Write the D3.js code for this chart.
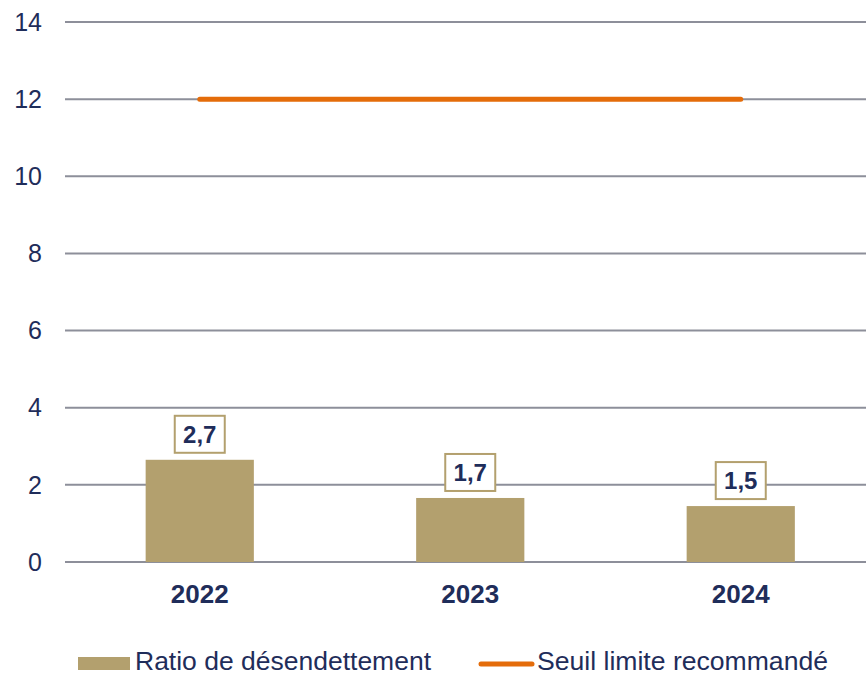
<!DOCTYPE html>
<html>
<head>
<meta charset="utf-8">
<script src="https://cdn.jsdelivr.net/npm/d3@7"></script>
<style>
  body { margin: 0; background: #fff; }
  text { font-family: "Liberation Sans", Arial, sans-serif; }
</style>
</head>
<body>
<div class="chart"></div>
<script>
// data
let years = ["2022", "2023", "2024"];
let ratio = [2.65, 1.66, 1.45];
let ratioLabels = ["2,7", "1,7", "1,5"];
let seuil = [12, 12, 12];
let yTicks = [0, 2, 4, 6, 8, 10, 12, 14];
let legendLabels = ["Ratio de désendettement", "Seuil limite recommandé"];

let width = 866, height = 675;
let navy = "#1f2d5a", gold = "#b3a06e", orange = "#e46c0a", grid = "#8d8f9a";

let svg = d3.select(".chart")
	.append("svg")
	.attr("width", width)
	.attr("height", height);

let x = d3.scaleBand()
	.domain(years)
	.range([64.5, 876])
	.paddingInner(0.6)
	.paddingOuter(0.3);

let y = d3.scaleLinear()
	.domain([0, 14])
	.range([562, 22]);

// gridlines
svg.selectAll(".grid")
	.data(yTicks)
	.enter().append("line")
	.attr("x1", 65)
	.attr("x2", width)
	.attr("y1", d => y(d))
	.attr("y2", d => y(d))
	.attr("stroke", grid)
	.attr("stroke-width", 2);

// y labels
svg.selectAll(".ytick")
	.data(yTicks)
	.enter().append("text")
	.attr("x", 42)
	.attr("y", d => y(d))
	.attr("dy", "0.35em")
	.attr("text-anchor", "end")
	.attr("font-size", 25)
	.attr("fill", navy)
	.text(d => d);

// bars
svg.selectAll(".bar")
	.data(ratio)
	.enter().append("rect")
	.attr("x", (d, i) => x(years[i]))
	.attr("width", x.bandwidth())
	.attr("y", d => y(d))
	.attr("height", d => y(0) - y(d))
	.attr("fill", gold);

// threshold line
let line = d3.line()
	.x((d, i) => x(years[i]) + x.bandwidth() / 2)
	.y(d => y(d));

svg.append("path")
	.datum(seuil)
	.attr("d", line)
	.attr("fill", "none")
	.attr("stroke", orange)
	.attr("stroke-width", 5)
	.attr("stroke-linecap", "round");

// value boxes
let boxes = svg.selectAll(".lbl")
	.data(ratio)
	.enter().append("g")
	.attr("transform", (d, i) => "translate(" + (x(years[i]) + x.bandwidth() / 2) + "," + (y(d) - 7) + ")");

boxes.append("rect")
	.attr("x", -25)
	.attr("y", -37)
	.attr("width", 50)
	.attr("height", 37)
	.attr("fill", "#fff")
	.attr("stroke", gold)
	.attr("stroke-width", 2);

boxes.append("text")
	.attr("y", -18.5)
	.attr("dy", "0.35em")
	.attr("text-anchor", "middle")
	.attr("font-size", 24)
	.attr("font-weight", "bold")
	.attr("fill", navy)
	.text((d, i) => ratioLabels[i]);

// category labels
svg.selectAll(".xlab")
	.data(years)
	.enter().append("text")
	.attr("x", d => x(d) + x.bandwidth() / 2)
	.attr("y", 603)
	.attr("text-anchor", "middle")
	.attr("font-size", 26)
	.attr("font-weight", "bold")
	.attr("fill", navy)
	.text(d => d);

// legend
svg.append("rect")
	.attr("x", 78).attr("y", 657)
	.attr("width", 52).attr("height", 13)
	.attr("fill", gold);
svg.append("text")
	.attr("x", 135).attr("y", 670)
	.attr("font-size", 25)
	.attr("textLength", 296)
	.attr("lengthAdjust", "spacingAndGlyphs")
	.attr("fill", navy)
	.text(legendLabels[0]);

svg.append("line")
	.attr("x1", 481).attr("x2", 532)
	.attr("y1", 664).attr("y2", 664)
	.attr("stroke", orange)
	.attr("stroke-width", 5)
	.attr("stroke-linecap", "round");
svg.append("text")
	.attr("x", 537).attr("y", 670)
	.attr("font-size", 25)
	.attr("textLength", 291)
	.attr("lengthAdjust", "spacingAndGlyphs")
	.attr("fill", navy)
	.text(legendLabels[1]);
</script>
</body>
</html>
